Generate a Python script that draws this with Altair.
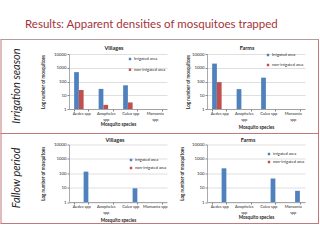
import altair as alt
import pandas as pd

# ---------------- data ----------------
slide_title = ["Results: Apparent densities of mosquitoes trapped"]
row_labels = ["Irrigation season", "Fallow period"]
panel_titles = ["Villages", "Farms", "Villages", "Farms"]

species = ["Aedes spp", "Anopheles spp", "Culex spp", "Mansonia spp"]
areas_row1 = ["Irrigated area", "non-irrigated area"]
areas_row2 = ["irrigated area", "non-irrigated area"]

# Irrigation season
villages_irr_irrigated = [480, 29, 53, None]
villages_irr_nonirrigated = [24, 2, 3, None]
farms_irr_irrigated = [2000, 28, 190, None]
farms_irr_nonirrigated = [90, None, None, None]
# Fallow period
villages_fal_irrigated = [130, None, 9, None]
villages_fal_nonirrigated = [None, None, None, None]
farms_fal_irrigated = [220, None, 43, 6]
farms_fal_nonirrigated = [None, None, None, None]

y_ticks = [1, 10, 100, 1000, 10000]

BLUE = "#4F81BD"
RED = "#C0504D"
FONT = "Lato"
TXT = "#262626"

W = 98
H1 = 55
H2 = 57.5
X0, Y0 = 69, 54  # page position of the first panel's plot area


def frame(irr, non, areas):
    rows = []
    for s, a, b in zip(species, irr, non):
        if a is not None:
            rows.append({"species": s, "area": areas[0], "value": a})
        if b is not None:
            rows.append({"species": s, "area": areas[1], "value": b})
    return pd.DataFrame(rows)


def panel(df, areas, title, title_x, title_y, ytitle_pad, xtitle_pad,
          leg_x, leg_y, leg_rowpad, two_line):
    label_expr = ("indexof(" + str(two_line) + ", datum.label) >= 0 ? "
                  "split(datum.label, ' ') : datum.label")
    bars = alt.Chart(df).mark_bar().encode(
        x=alt.X("species:N",
                scale=alt.Scale(domain=species, paddingInner=0.42, paddingOuter=0.21),
                axis=alt.Axis(title="Mosquito species", labelAngle=0,
                              labelExpr=label_expr, labelFontSize=4,
                              labelLineHeight=6.3, labelPadding=0,
                              labelColor=TXT, labelFont=FONT,
                              tickBand="extent", tickSize=2, tickColor="#868686",
                              domainColor="#868686", domainWidth=0.7,
                              titleFontSize=4.6, titleFont=FONT, titleColor=TXT,
                              titleFontWeight="bold", titlePadding=xtitle_pad)),
        xOffset=alt.XOffset("area:N", scale=alt.Scale(domain=areas)),
        y=alt.Y("value:Q",
                scale=alt.Scale(type="log", domain=[1, 10000]),
                axis=alt.Axis(values=y_ticks, format="d",
                              title="Log number of mosquitoes",
                              labelFontSize=4.3, labelFont=FONT, labelColor=TXT,
                              labelPadding=1, tickSize=2, tickColor="#868686",
                              domainColor="#868686", domainWidth=0.7,
                              grid=True, gridColor="#c9c9c9", gridWidth=0.6,
                              titleFontSize=4.6, titleFont=FONT, titleColor=TXT,
                              titleFontWeight="bold", titlePadding=ytitle_pad)),
        y2=alt.datum(1),
        color=alt.Color("area:N",
                        scale=alt.Scale(domain=areas, range=[BLUE, RED]),
                        legend=alt.Legend(title=None, orient="none",
                                          legendX=leg_x, legendY=leg_y,
                                          symbolType="square", symbolSize=6,
                                          symbolStrokeWidth=0,
                                          labelFontSize=4, labelFont=FONT,
                                          labelColor=TXT, labelOffset=2,
                                          rowPadding=leg_rowpad, padding=0)),
    )
    ttl = alt.Chart(pd.DataFrame({"t": [title]})).mark_text(
        font=FONT, fontSize=5.5, fontWeight="bold", color=TXT,
        align="center", baseline="middle"
    ).encode(text="t:N", x=alt.value(title_x), y=alt.value(title_y))
    return [bars, ttl]


p1 = panel(frame(villages_irr_irrigated, villages_irr_nonirrigated, areas_row1),
           areas_row1, panel_titles[0], 45, -6, 8, 0, 59, 3, 6.7,
           ["Anopheles spp", "Mansonia spp"])
p2 = panel(frame(farms_irr_irrigated, farms_irr_nonirrigated, areas_row1),
           areas_row1, panel_titles[1], 40, -6, 1, 3, 59, -1, 6,
           ["Anopheles spp", "Mansonia spp"])
p3 = panel(frame(villages_fal_irrigated, villages_fal_nonirrigated, areas_row2),
           areas_row2, panel_titles[2], 46, -4.5, 8, 3.5, 60, 13.5, 4,
           ["Anopheles spp"])
p4 = panel(frame(farms_fal_irrigated, farms_fal_nonirrigated, areas_row2),
           areas_row2, panel_titles[3], 41, -4.5, 7, 0.5, 60, 7.5, 4,
           ["Anopheles spp", "Mansonia spp"])

# ---------------- slide decorations (drawn in first panel) ----------------
one = pd.DataFrame({"k": [0]})
bg = alt.Chart(one).mark_rect(fill="white", fillOpacity=0, stroke=None).encode(
    x=alt.value(-X0), x2=alt.value(320 - X0), y=alt.value(-Y0), y2=alt.value(240 - Y0))

LINE = "#c07a7a"


def hline(ypage, color=LINE):
    return alt.Chart(one).mark_rule(color=color, strokeWidth=1).encode(
        x=alt.value(0.5 - X0), x2=alt.value(319 - X0), y=alt.value(ypage - Y0))


def vline(xpage, y1, y2):
    return alt.Chart(one).mark_rule(color=LINE, strokeWidth=1).encode(
        x=alt.value(xpage - X0), y=alt.value(y1 - Y0), y2=alt.value(y2 - Y0))


title_txt = alt.Chart(pd.DataFrame({"t": slide_title})).mark_text(
    font=FONT, fontSize=11.5, color="#A3343A", align="left", baseline="alphabetic"
).encode(text="t:N", x=alt.value(25 - X0), y=alt.value(28 - Y0))

row1_txt = alt.Chart(pd.DataFrame({"t": row_labels[:1]})).mark_text(
    font=FONT, fontSize=11, fontStyle="italic", color=TXT, angle=270,
    align="center", baseline="middle"
).encode(text="t:N", x=alt.value(17 - X0), y=alt.value(86 - Y0))

row2_txt = alt.Chart(pd.DataFrame({"t": row_labels[1:]})).mark_text(
    font=FONT, fontSize=11, fontStyle="italic", color=TXT, angle=270,
    align="center", baseline="middle"
).encode(text="t:N", x=alt.value(17 - X0), y=alt.value(178 - Y0))

deco = [bg, hline(39.5, "#b89a9a"), hline(133.5), hline(223.5),
        vline(1, 39.5, 223.5), vline(318.5, 39.5, 223.5),
        title_txt, row1_txt, row2_txt]

c1 = alt.layer(*deco, *p1).properties(width=W, height=H1)
c2 = alt.layer(*p2).properties(width=W, height=H1)
c3 = alt.layer(*p3).properties(width=W, height=H2)
c4 = alt.layer(*p4).properties(width=W, height=H2)

chart = alt.concat(c1, c2, c3, c4, columns=2,
                   spacing={"row": 144.5 - Y0 - H1, "column": 207 - X0 - W},
                   bounds="flush").resolve_scale(
    color="independent").configure_view(stroke=None).properties(
    padding=0, background="white")

chart.save("out.html", embed_options={"renderer": "svg", "actions": False})
